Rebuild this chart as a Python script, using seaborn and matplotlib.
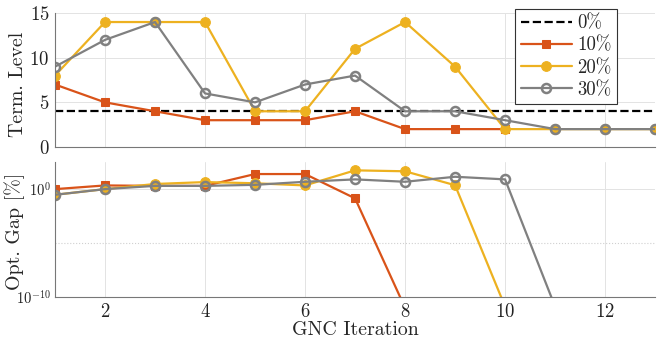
import matplotlib
matplotlib.use("Agg")
import matplotlib.pyplot as plt
import numpy as np
import pandas as pd
import seaborn as sns

sns.set_theme(style="whitegrid")
plt.rcParams['font.family'] = 'serif'
plt.rcParams['font.serif'] = ['cmr10', 'DejaVu Serif']
plt.rcParams['mathtext.fontset'] = 'cm'
plt.rcParams['axes.formatter.use_mathtext'] = True

# Data
iterations = np.arange(1, 14)
level_0 = [4] * 13
level_10 = [7, 5, 4, 3, 3, 3, 4, 2, 2, 2]
level_20 = [8, 14, 14, 14, 4, 4, 11, 14, 9, 2, 2, 2, 2]
level_30 = [9, 12, 14, 6, 5, 7, 8, 4, 4, 3, 2, 2, 2]

gap_10 = [1.0, 2.2, 2.0, 2.0, 25, 25, 0.14, 1e-11]
gap_20 = [0.3, 1.0, 3.0, 4.5, 3.5, 2.2, 55, 45, 2.3, 1.3e-11]
gap_30 = [0.3, 1.0, 2.0, 2.0, 2.5, 4.8, 8, 4.8, 14, 8, 1.3e-11]

labels = ['0%', '10%', '20%', '30%']
colors = ['black', '#D95319', '#EDB120', '#808080']

fig = plt.figure(figsize=(6.58, 3.45), dpi=100)
ax1 = fig.add_axes([0.0836, 0.574, 0.912, 0.388])
ax2 = fig.add_axes([0.0836, 0.139, 0.912, 0.391])

lw = 1.6
styles = [
    dict(marker=None, linestyle='--'),
    dict(marker='s', markersize=5.5, markeredgecolor=colors[1]),
    dict(marker='o', markersize=7, markeredgecolor=colors[2]),
    dict(marker='o', markersize=6.5, markerfacecolor='none', markeredgecolor=colors[3], markeredgewidth=1.8),
]

level_series = [level_0, level_10, level_20, level_30]
for lab, col, st, vals in zip(labels, colors, styles, level_series):
    sns.lineplot(x=iterations[:len(vals)], y=vals, ax=ax1, color=col, linewidth=lw,
                 label=lab, **st)

gap_series = [gap_10, gap_20, gap_30]
for col, st, vals in zip(colors[1:], styles[1:], gap_series):
    sns.lineplot(x=iterations[:len(vals)], y=vals, ax=ax2, color=col, linewidth=lw, **st)

for ax in (ax1, ax2):
    ax.set_xlim(1, 13)
    ax.set_xticks([2, 4, 6, 8, 10, 12])
    ax.set_facecolor('white')
    for s in ['top', 'right']:
        ax.spines[s].set_visible(False)
    for s in ['left', 'bottom']:
        ax.spines[s].set_color('#777777')
        ax.spines[s].set_linewidth(0.8)
    ax.grid(True, which='major', color='#e3e3e3', linewidth=0.7)
    ax.tick_params(direction='in', length=4, color='#777777', labelsize=13.5,
                   labelcolor='#222222', pad=4)

ax1.set_ylim(0, 15)
ax1.set_yticks([0, 5, 10, 15])
ax1.tick_params(axis='x', labelbottom=False)
ax1.set_ylabel('Term. Level', fontsize=14.3)
ax1.yaxis.set_label_coords(-0.047, 0.47)
ax1.set_xlabel('')

ax2.set_yscale('log')
ax2.set_ylim(1e-10, 10 ** 2.5)
ax2.set_yticks([1e-10, 1])
ax2.set_yticks([1e-5], minor=True)
ax2.yaxis.set_minor_formatter(matplotlib.ticker.NullFormatter())
ax2.tick_params(axis='y', which='major', labelsize=10.5, pad=3)
ax2.tick_params(axis='y', which='minor', length=0)
ax2.grid(True, which='minor', axis='y', color='#d0d0d0', linestyle=':', linewidth=0.8)
ax2.set_ylabel('Opt. Gap [%]', fontsize=14.3)
ax2.yaxis.set_label_coords(-0.05, 0.49)
ax2.set_xlabel('GNC Iteration', fontsize=14.3, labelpad=0)

leg = ax1.legend(loc='upper right', bbox_to_anchor=(0.937, 1.03), fontsize=13.5,
                 frameon=True, fancybox=False, handlelength=2.7, handletextpad=0.3,
                 borderpad=0.3, labelspacing=0.22, borderaxespad=0)
leg.get_frame().set_edgecolor('#333333')
leg.get_frame().set_linewidth(0.8)
leg.get_frame().set_alpha(1)

fig.savefig('out.png', dpi=100)
